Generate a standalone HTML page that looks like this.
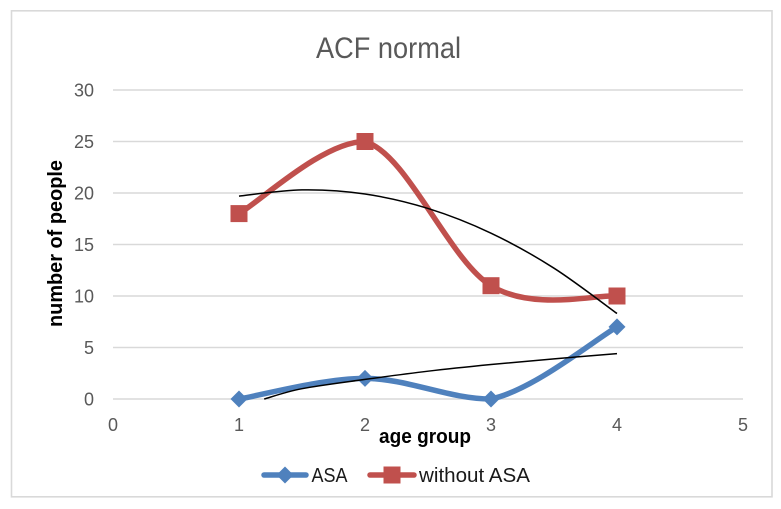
<!DOCTYPE html>
<html>
<head>
<meta charset="utf-8">
<title>ACF normal</title>
<style>
html,body{margin:0;padding:0;background:#fff;width:781px;height:509px;overflow:hidden}
svg{display:block;font-family:"Liberation Sans",sans-serif}
</style>
</head>
<body>
<svg id="chart" width="781" height="509" viewBox="0 0 781 509" xmlns="http://www.w3.org/2000/svg">
  <rect x="11.5" y="10.8" width="760.5" height="486" fill="#fff" stroke="#d9d9d9" stroke-width="1.6"/>
  <text x="316" y="58" font-size="30" fill="#595959" textLength="145" lengthAdjust="spacingAndGlyphs">ACF normal</text>
  <g id="grid"></g>
  <g id="yticks"></g>
  <g id="xticks"></g>
  <g id="series"></g>
  <text transform="translate(62 327) rotate(-90)" font-size="20" font-weight="bold" fill="#000" textLength="167" lengthAdjust="spacingAndGlyphs">number of people</text>
  <text x="379" y="443" font-size="20" font-weight="bold" fill="#000" textLength="92" lengthAdjust="spacingAndGlyphs">age group</text>
  <g>
    <g>
      <line x1="264" y1="475" x2="306" y2="475" stroke="#4f81bd" stroke-width="5.5" stroke-linecap="round"/>
      <polygon points="285,466.5 293.5,475 285,483.5 276.5,475" fill="#4f81bd"/>
      <text x="311.500" y="482" font-size="20" fill="#1a1a1a" textLength="36" lengthAdjust="spacingAndGlyphs">ASA</text>
    </g>
    <g>
      <line x1="370" y1="475" x2="414" y2="475" stroke="#c0504d" stroke-width="5.5" stroke-linecap="round"/>
      <rect x="383.500" y="466.500" width="17" height="17" fill="#c0504d"/>
      <text x="419" y="482" font-size="20" fill="#1a1a1a" textLength="111" lengthAdjust="spacingAndGlyphs">without ASA</text>
    </g>
  </g>
</svg>
<script>
const ageGroups = [1, 2, 3, 4];
const asaValues = [0, 2, 0, 7];
const withoutAsaValues = [18, 25, 11, 10];
const withoutTrendX = [1, 1.5, 2, 2.5, 3, 3.5, 4];
const withoutTrendValues = [19.7, 20.3, 19.9, 18.5, 16.1, 12.7, 8.3];
const asaTrendX = [1.2, 1.5, 2, 2.5, 3, 3.5, 4];
const asaTrendValues = [0, 1.0, 1.9, 2.7, 3.35, 3.9, 4.4];
const xTickLabels = [0, 1, 2, 3, 4, 5];
const yTickLabels = [0, 5, 10, 15, 20, 25, 30];

const NS = 'http://www.w3.org/2000/svg';
const xScale = v => 113 + (v - 0) * (743 - 113) / 5;
const yScale = v => 399 - v * (399 - 90) / 30;

function mk(parent, tag, attrs, text) {
  const el = document.createElementNS(NS, tag);
  for (const k in attrs) el.setAttribute(k, attrs[k]);
  if (text !== undefined) el.textContent = text;
  parent.appendChild(el);
  return el;
}

function smoothPath(xs, ys) {
  const p = xs.map((x, i) => [xScale(x), yScale(ys[i])]);
  let d = 'M' + p[0][0].toFixed(2) + ' ' + p[0][1].toFixed(2);
  for (let i = 0; i < p.length - 1; i++) {
    const a = p[Math.max(i - 1, 0)], b = p[i], c = p[i + 1], e = p[Math.min(i + 2, p.length - 1)];
    const c1x = b[0] + (c[0] - a[0]) / 6, c1y = b[1] + (c[1] - a[1]) / 6;
    const c2x = c[0] - (e[0] - b[0]) / 6;
    /* the incoming handle never overshoots the segment, which keeps peaks and troughs flat */
    const c2y = Math.min(Math.max(c[1] - (e[1] - b[1]) / 6, Math.min(b[1], c[1])), Math.max(b[1], c[1]));
    d += ' C' + [c1x, c1y, c2x, c2y, c[0], c[1]].map(n => n.toFixed(2)).join(' ');
  }
  return d;
}

const grid = document.getElementById('grid');
const yticks = document.getElementById('yticks');
const xticks = document.getElementById('xticks');
const series = document.getElementById('series');

yTickLabels.forEach(v => {
  const line = mk(grid, 'line', {x1: xScale(0), x2: xScale(5), y1: yScale(v), y2: yScale(v), stroke: '#d9d9d9', 'stroke-width': 1.5});
  
  
  const label = mk(yticks, 'text', {x: 94, y: yScale(v) + 6.500, 'text-anchor': 'end', 'font-size': 18, fill: '#595959'}, v);
  
  
});

xTickLabels.forEach(v => {
  const label = mk(xticks, 'text', {x: xScale(v), y: 431, 'text-anchor': 'middle', 'font-size': 18, fill: '#595959'}, v);
  
  
});

const asaLine = mk(series, 'path', {d: smoothPath(ageGroups, asaValues), fill: 'none', stroke: '#4f81bd', 'stroke-width': 5.500, 'stroke-linecap': 'round'});



const withoutLine = mk(series, 'path', {d: smoothPath(ageGroups, withoutAsaValues), fill: 'none', stroke: '#c0504d', 'stroke-width': 5.500, 'stroke-linecap': 'round'});



ageGroups.forEach((g, i) => {
  const cx = xScale(g), cy = yScale(asaValues[i]), r = 8.500;
  const pts = [[cx, cy - r], [cx + r, cy], [cx, cy + r], [cx - r, cy]].map(q => q.join(',')).join(' ');
  const marker = mk(series, 'polygon', {points: pts, fill: '#4f81bd'});
  
  
});

ageGroups.forEach((g, i) => {
  const marker = mk(series, 'rect', {x: xScale(g) - 8.500, y: yScale(withoutAsaValues[i]) - 8.500, width: 17, height: 17, fill: '#c0504d'});
  
  
});

const trendWithout = mk(series, 'path', {d: smoothPath(withoutTrendX, withoutTrendValues), fill: 'none', stroke: '#000', 'stroke-width': 1.500});



const trendAsa = mk(series, 'path', {d: smoothPath(asaTrendX, asaTrendValues), fill: 'none', stroke: '#000', 'stroke-width': 1.500});


</script>
</body>
</html>
